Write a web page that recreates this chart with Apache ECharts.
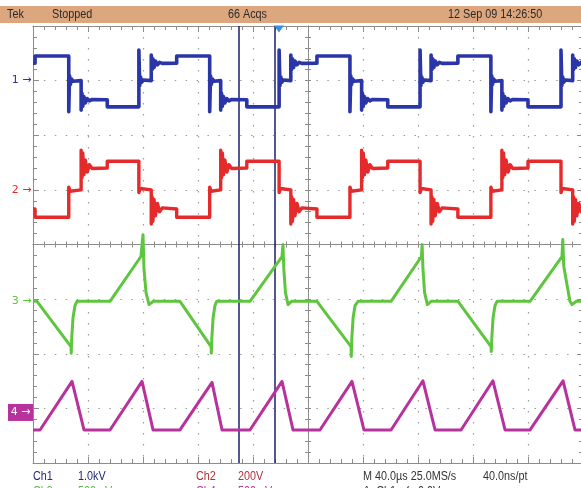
<!DOCTYPE html>
<html>
<head>
<meta charset="utf-8">
<script src="https://cdn.jsdelivr.net/npm/echarts@6/dist/echarts.min.js"></script>
<style>
html,body{margin:0;padding:0;background:#fff;}
#chart{width:581px;height:488px;}
</style>
</head>
<body>
<div id="chart"></div>
<script>
// ---------- DATA (time in µs, ch1/ch2 in V, ch3/ch4 in mV) ----------
const headerTexts = ['Tek', 'Stopped', '66 Acqs', '12 Sep 09 14:26:50'];
const footerRow1 = ['Ch1', '1.0kV', 'Ch2', '200V', 'M 40.0µs 25.0MS/s', '40.0ns/pt'];
const footerRow2 = ['Ch3', '500mV', 'Ch4', '500mV', 'A  Ch1  \u2220  0.0V'];
const channelLabels = ['1', '2', '3', '4'];
const cursorTimes = [149.8, 176];
const triggerTime = 178.9;

const ch1Trace = [
 [0,320],[1.5,320],[1.5,450],[26,450],
 [26,-570],[26.6,90],[27.2,-70],[28,30],[29,-10],[30,0],[35,0],
 [35,-540],[35.6,-230],[36.2,-470],[37,-290],[38,-410],[39.5,-330],[41,-370],[43,-345],[54,-350],
 [54,-480],[77,-480],
 [77,560],[77.6,-90],[78.2,70],[79,-30],[80,10],[81,0],[86,0],
 [86,470],[86.6,200],[87.2,400],[88,240],[89,360],[90.5,290],[92,335],[94,315],[104.5,320],
 [104.5,450],[128.5,450],
 [128.5,-570],[129.1,90],[129.7,-70],[130.5,30],[131.5,-10],[132.5,0],[136.5,0],
 [136.5,-540],[137.1,-230],[137.7,-470],[138.5,-290],[139.5,-410],[141,-330],[142.5,-370],[144.5,-345],[155.5,-350],
 [155.5,-480],[179,-480],
 [179,560],[179.6,-90],[180.2,70],[181,-30],[182,10],[183,0],[187.5,0],
 [187.5,470],[188.1,200],[188.7,400],[189.5,240],[190.5,360],[192,290],[193.5,335],[195.5,315],[206.5,320],
 [206.5,450],[230.5,450],
 [230.5,-570],[231.1,90],[231.7,-70],[232.5,30],[233.5,-10],[234.5,0],[239,0],
 [239,-540],[239.6,-230],[240.2,-470],[241,-290],[242,-410],[243.5,-330],[245,-370],[247,-345],[258,-350],
 [258,-480],[281.5,-480],
 [281.5,560],[282.1,-90],[282.7,70],[283.5,-30],[284.5,10],[285.5,0],[289.5,0],
 [289.5,470],[290.1,200],[290.7,400],[291.5,240],[292.5,360],[294,290],[295.5,335],[297.5,315],[309,320],
 [309,450],[333,450],
 [333,-570],[333.6,90],[334.2,-70],[335,30],[336,-10],[337,0],[341,0],
 [341,-540],[341.6,-230],[342.2,-470],[343,-290],[344,-410],[345.5,-330],[347,-370],[349,-345],[360,-350],
 [360,-480],[384,-480],
 [384,560],[384.6,-90],[385.2,70],[386,-30],[387,10],[388,0],[392.5,0],
 [392.5,470],[393.1,200],[393.7,400],[394.5,240],[395.5,360],[397,290],[398.5,335],[400,320]
];

const ch2Trace = [
 [0,-70],[1.5,-70],[1.5,-100],[26,-100],
 [26,10],[27,-5],[28,0],[35,0],
 [35,145],[35.6,45],[36.2,135],[37,55],[38,110],[39.5,65],[41,92],[43,78],[54,80],
 [54,105],[77,105],
 [77,-10],[78,5],[79,0],[86,0],
 [86,-125],[86.6,-25],[87.2,-115],[88,-35],[89,-95],[90.5,-50],[92,-80],[94,-66],[104.5,-70],
 [104.5,-100],[128.5,-100],
 [128.5,10],[129.5,-5],[130.5,0],[136.5,0],
 [136.5,145],[137.1,45],[137.7,135],[138.5,55],[139.5,110],[141,65],[142.5,92],[144.5,78],[155.5,80],
 [155.5,105],[179,105],
 [179,-10],[180,5],[181,0],[187.5,0],
 [187.5,-125],[188.1,-25],[188.7,-115],[189.5,-35],[190.5,-95],[192,-50],[193.5,-80],[195.5,-66],[206.5,-70],
 [206.5,-100],[230.5,-100],
 [230.5,10],[231.5,-5],[232.5,0],[239,0],
 [239,145],[239.6,45],[240.2,135],[241,55],[242,110],[243.5,65],[245,92],[247,78],[258,80],
 [258,105],[281.5,105],
 [281.5,-10],[282.5,5],[283.5,0],[289.5,0],
 [289.5,-125],[290.1,-25],[290.7,-115],[291.5,-35],[292.5,-95],[294,-50],[295.5,-80],[297.5,-66],[309,-70],
 [309,-100],[333,-100],
 [333,10],[334,-5],[335,0],[341,0],
 [341,145],[341.6,45],[342.2,135],[343,55],[344,110],[345.5,65],[347,92],[349,78],[360,80],
 [360,105],[384,105],
 [384,-10],[385,5],[386,0],[392.5,0],
 [392.5,-125],[393.1,-25],[393.7,-115],[394.5,-35],[395.5,-95],[397,-50],[398.5,-80],[400,-66]
];

const ch3Trace = [
 [0,0],[2.9,0],[27.6,-414],[27.8,-475],[28.2,-330],[29.1,-150],[30.5,-40],[32,0],[56,0],
 [78.5,410],[80,610],[80.7,300],[82.2,80],[84.4,-30],[87.3,0],[106.9,0],
 [129.5,-414],[129.7,-475],[130.1,-330],[131,-150],[132.3,-40],[133.6,0],[157.8,0],
 [181.1,410],[181.8,520],[182.4,300],[183.6,80],[185.5,-30],[188,0],[206.5,0],
 [231.3,-414],[231.5,-505],[231.9,-330],[232.8,-150],[234.2,-40],[236.4,0],[260.4,0],
 [282.5,410],[283,520],[283.6,300],[284.8,80],[286.8,-30],[289.5,0],[309.1,0],
 [333.1,-414],[333.3,-460],[333.7,-330],[334.6,-150],[336,-40],[337.5,0],[361.5,0],
 [384.7,410],[385.3,565],[386,320],[388.4,150],[390.5,0],[392,-30],[395,0],[400,0]
];

const ch4Trace = [
 [0,-160],[5.1,-160],[28.4,284],[37.1,-160],[56,-160],[79.3,284],[87.3,-160],[106.9,-160],
 [130.2,275],[137.5,-160],[157.8,-160],[181.1,284],[189.1,-160],[208.7,-160],[232,284],
 [240.7,-160],[260.4,-160],[283.6,290],[292.4,-160],[311.3,-160],[334.5,290],[343.3,-160],
 [361.5,-160],[385.5,290],[394.2,-160],[400,-160]
];

// ---------- CHANNEL SETTINGS (units per division, reference position in divisions) ----------
const channels = [
  {trace: ch1Trace, scale: 1000, offset: 7.0,  color: '#2a36a8', width: 3.6},
  {trace: ch2Trace, scale: 200,  offset: 5.0,  color: '#e42a2a', width: 3.4},
  {trace: ch3Trace, scale: 500,  offset: 2.96, color: '#5ec63e', width: 3},
  {trace: ch4Trace, scale: 500,  offset: 0.925,color: '#b8329e', width: 3}
];

const GRID = '#8c8c8c';
const DOTS = '#9c9c9c';
const FONT = '"Liberation Sans", Arial, sans-serif';

function frameX(pos, withSplit) {
  return {
    type: 'value', min: 0, max: 400, interval: 40, position: pos,
    axisLine: {show: true, onZero: false, lineStyle: {color: GRID, width: 1}},
    axisTick: {show: true, inside: true, length: 6, lineStyle: {color: GRID}},
    minorTick: {show: true, splitNumber: 5, length: 4, lineStyle: {color: GRID}},
    axisLabel: {show: false},
    splitLine: {show: withSplit, lineStyle: {color: DOTS, type: [1.5, 9.5], width: 1.2}},
    minorSplitLine: {show: false}
  };
}
function frameY(pos, withSplit) {
  return {
    type: 'value', min: 0, max: 8, interval: 1, position: pos,
    axisLine: {show: true, onZero: false, lineStyle: {color: GRID, width: 1}},
    axisTick: {show: true, inside: true, length: 6, lineStyle: {color: GRID}},
    minorTick: {show: true, splitNumber: 5, length: 4, lineStyle: {color: GRID}},
    axisLabel: {show: false},
    splitLine: {show: withSplit, lineStyle: {color: DOTS, type: [1.5, 9.4], width: 1.2}},
    minorSplitLine: {show: false}
  };
}
function centerX(inside) {
  return {
    type: 'value', min: 0, max: 400, interval: 40, position: 'bottom',
    axisLine: {show: true, onZero: true, onZeroAxisIndex: 2, lineStyle: {color: GRID, width: 1}},
    axisTick: {show: true, inside: inside, length: 3, lineStyle: {color: GRID}},
    minorTick: {show: true, splitNumber: 5, length: 3, lineStyle: {color: GRID}},
    axisLabel: {show: false}, splitLine: {show: false}
  };
}
function centerY(inside) {
  return {
    type: 'value', min: -4, max: 4, interval: 1, position: 'left',
    axisLine: {show: true, onZero: true, onZeroAxisIndex: 4, lineStyle: {color: GRID, width: 1}},
    axisTick: {show: true, inside: inside, length: 3, lineStyle: {color: GRID}},
    minorTick: {show: true, splitNumber: 5, length: 3, lineStyle: {color: GRID}},
    axisLabel: {show: false}, splitLine: {show: false}
  };
}

const series = channels.map((ch, i) => {
  const s = {
    type: 'line', xAxisIndex: 0, yAxisIndex: 0,
    data: ch.trace.map(p => [p[0], ch.offset + p[1] / ch.scale]),
    showSymbol: false, symbol: 'none', animation: false, silent: true,
    lineStyle: {color: ch.color, width: ch.width, join: 'round'},
    itemStyle: {color: ch.color},
    z: 5,
    markPoint: {
      animation: false, silent: true,
      data: [i === 3 ? {
        coord: [0, ch.offset], symbol: 'rect', symbolSize: [25, 17], symbolOffset: [-12.5, 0],
        itemStyle: {color: ch.color},
        label: {show: true, position: 'inside', color: '#fff', fontSize: 11,
                fontFamily: '"DejaVu Sans", sans-serif', formatter: channelLabels[i] + ' \u2192'}
      } : {
        coord: [0, ch.offset], symbol: 'rect', symbolSize: [1, 1],
        itemStyle: {color: 'rgba(0,0,0,0)'},
        label: {show: true, position: 'left', distance: 1, color: ch.color, fontSize: 11,
                fontFamily: '"DejaVu Sans", sans-serif', formatter: channelLabels[i] + ' \u2192'}
      }]
    }
  };
  if (i === 0) {
    s.markLine = {
      animation: false, silent: true, symbol: 'none',
      label: {show: false},
      lineStyle: {color: '#1c1f6e', width: 1.5, type: 'solid'},
      data: cursorTimes.map(t => ({xAxis: t}))
    };
  }
  if (i === 2) {
    s.markPoint.data.push({
      coord: [triggerTime, 8], symbol: 'triangle', symbolRotate: 180, symbolSize: [10, 7],
      symbolOffset: [0, 3], itemStyle: {color: '#3a90d8'}, label: {show: false}
    });
  }
  return s;
});

function txt(x, y, text, color, size) {
  return {type: 'text', x: x, y: y, scaleX: 0.9, z: 100,
    style: {text: text, fill: color, font: (size || 12) + 'px ' + FONT, verticalAlign: 'middle', align: 'left'}};
}

const headerX = [7, 52, 228, 448];
const row1X = [33, 78, 196, 238, 363, 483];
const row1C = ['#23287a', '#23287a', '#b0303c', '#b0303c', '#333', '#333'];
const row2X = [33, 78, 196, 238, 363];
const row2C = ['#5cb846', '#5cb846', '#b0388f', '#b0388f', '#333'];

const graphics = [
  {type: 'rect', shape: {x: 0, y: 6, width: 581, height: 17}, style: {fill: '#dca77e'}, z: 90}
];
headerTexts.forEach((t, i) => graphics.push(txt(headerX[i], 15, t, '#2a2a2a', 12)));
footerRow1.forEach((t, i) => graphics.push(txt(row1X[i], 477, t, row1C[i], 12)));
footerRow2.forEach((t, i) => graphics.push(txt(row2X[i], 492, t, row2C[i], 12)));

const chart = echarts.init(document.getElementById('chart'), null, {renderer: 'canvas'});
chart.setOption({
  animation: false,
  backgroundColor: '#ffffff',
  textStyle: {fontFamily: FONT},
  grid: {left: 33, top: 26, width: 550, height: 437, containLabel: false, outerBoundsMode: 'none'},
  xAxis: [frameX('bottom', true), frameX('top', false), centerX(true), centerX(false),
          {type: 'value', min: -200, max: 200, show: false, axisLine: {onZero: false}}],
  yAxis: [frameY('left', true), frameY('right', false), centerY(true), centerY(false)],
  series: series,
  graphic: graphics
});
</script>
</body>
</html>
